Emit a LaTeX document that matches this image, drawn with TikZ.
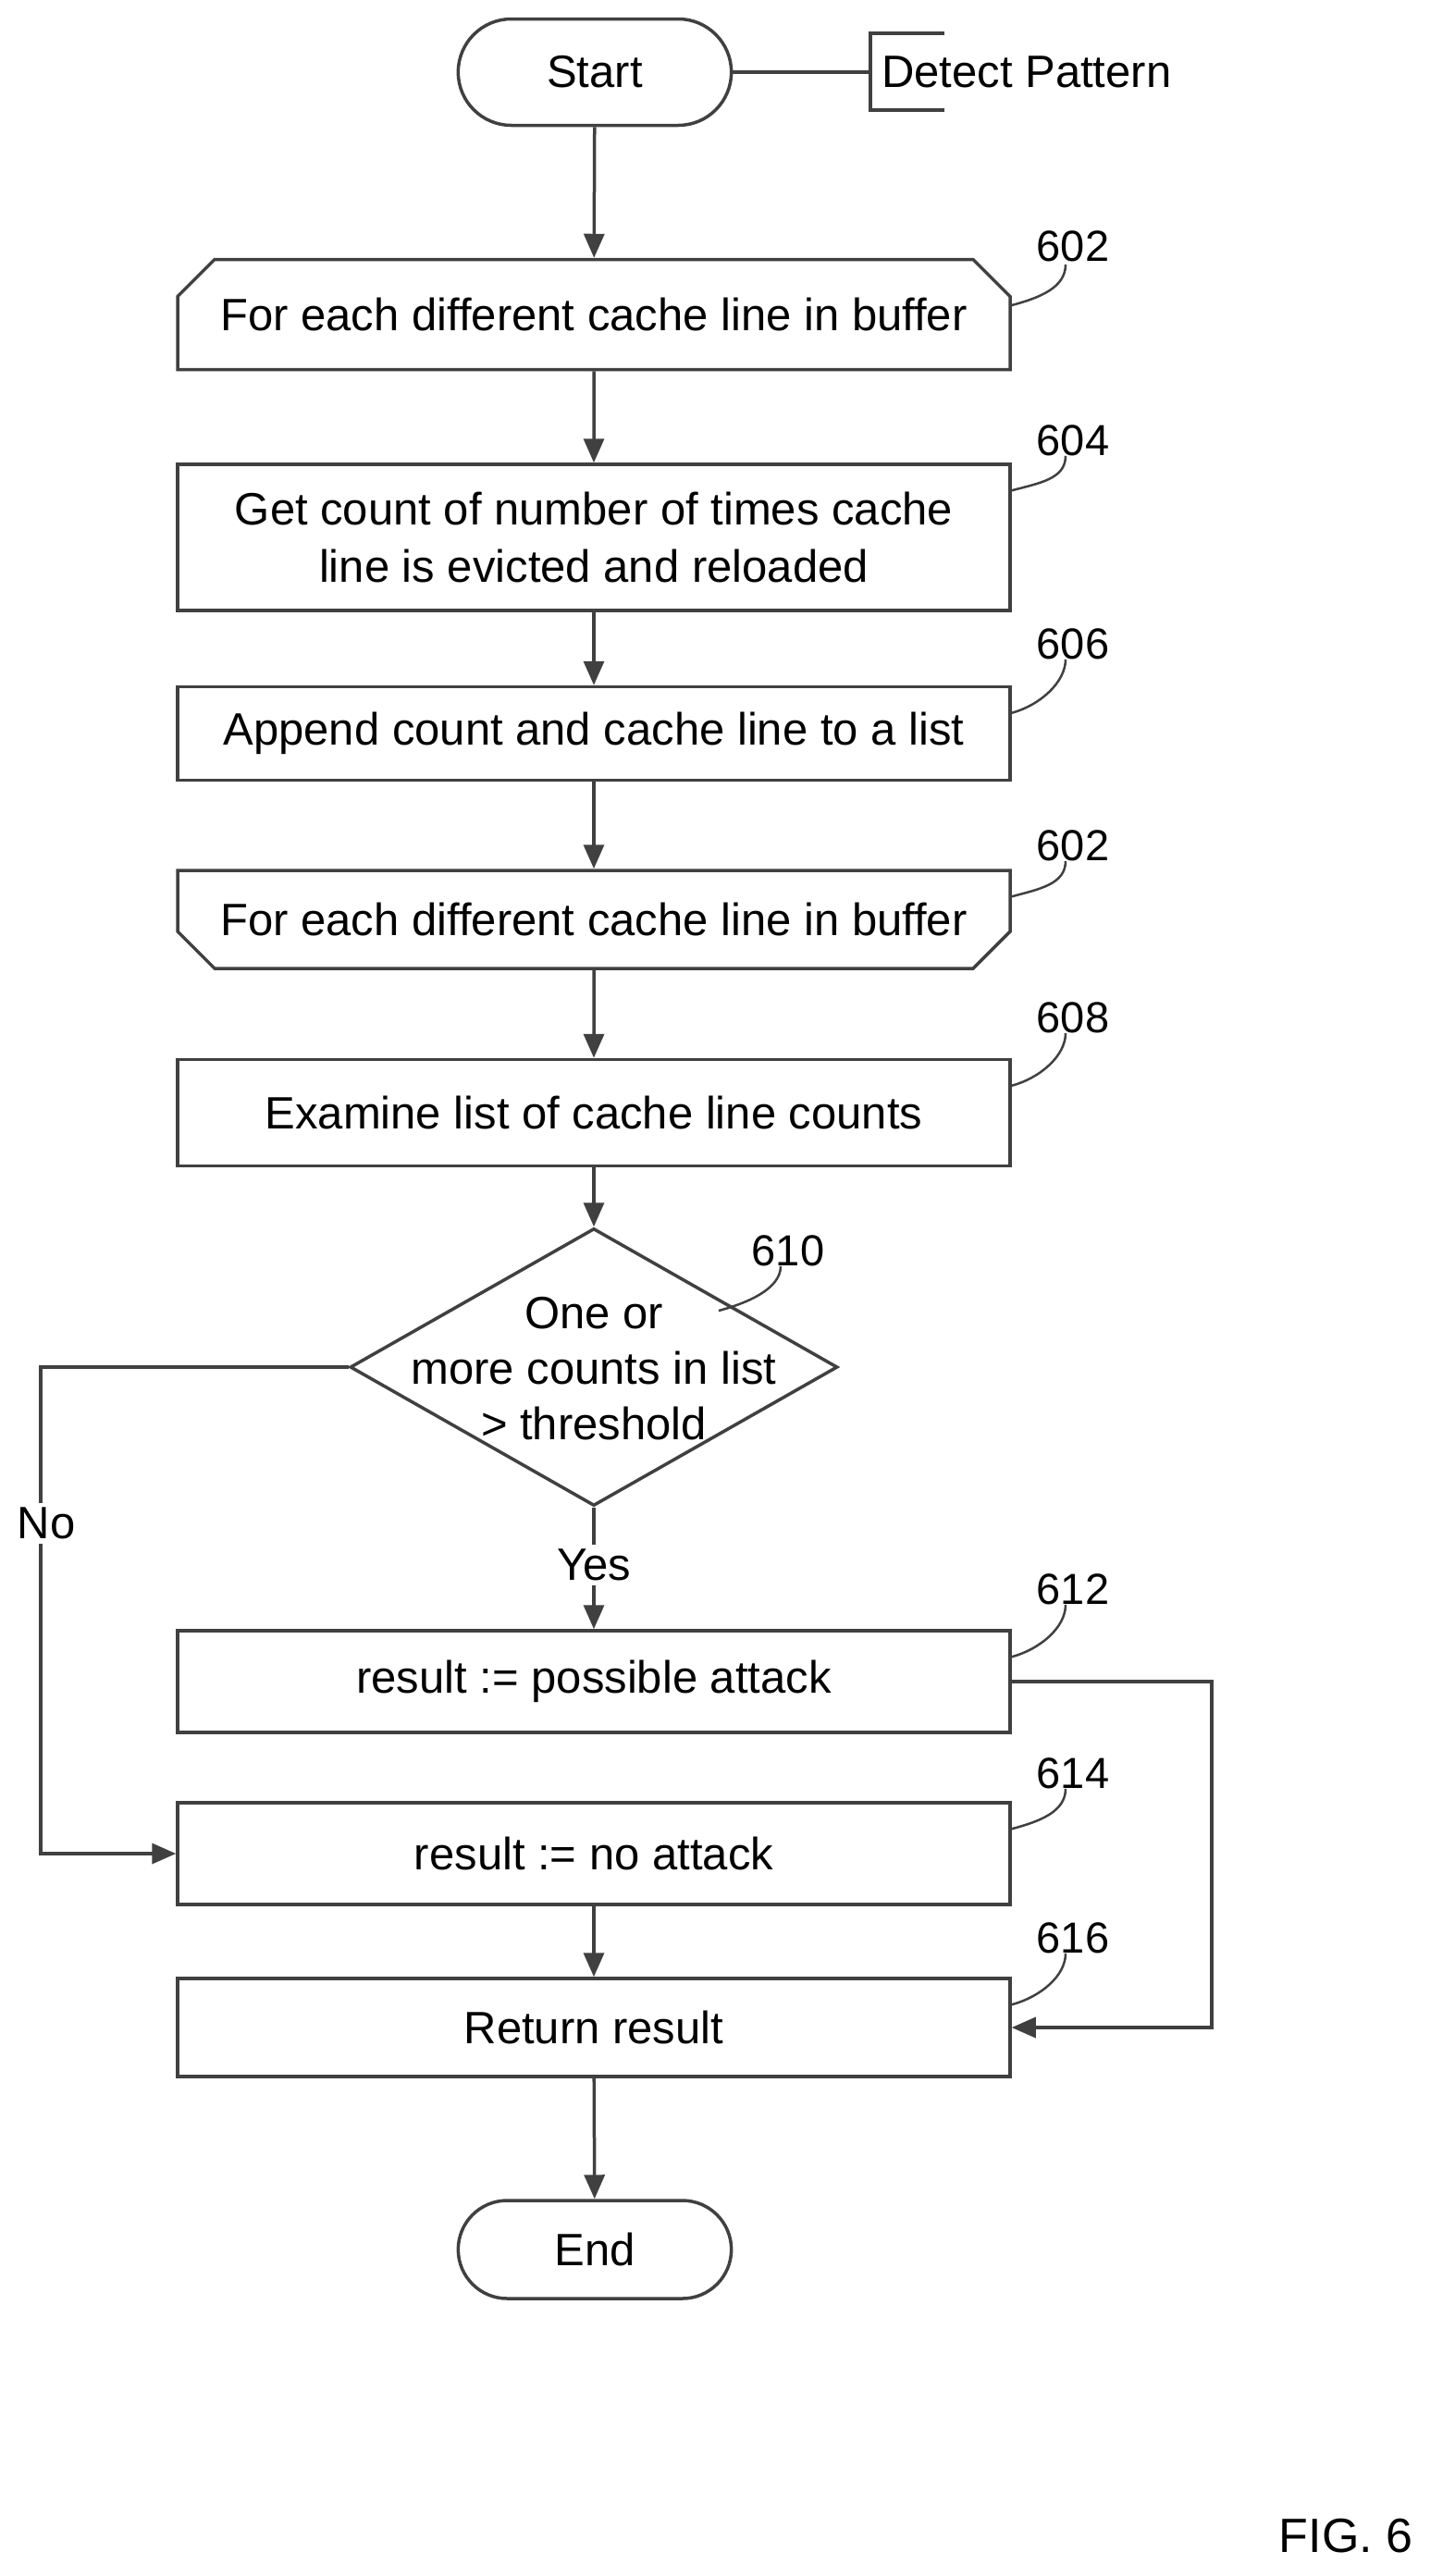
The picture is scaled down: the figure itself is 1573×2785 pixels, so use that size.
\documentclass[tikz,border=0pt]{standalone}
\usepackage{fontspec}
\setmainfont{Liberation Sans}
\usetikzlibrary{arrows.meta,shapes.misc,shapes.geometric}
\begin{document}
\begin{tikzpicture}[x=1pt,y=-1pt,
  ln/.style={draw=black!75,line width=3.5pt},
  ar/.style={ln,-{Triangle[length=26pt,width=22pt]}},
  box/.style={ln,rectangle,minimum width=900pt,align=center,font=\fontsize{49}{62}\selectfont,inner sep=0pt},
  term/.style={ln,rounded rectangle,minimum width=302pt,font=\fontsize{49}{62}\selectfont},
  lbl/.style={font=\fontsize{47}{52}\selectfont,inner sep=0pt},
  cb/.style={box,chamfered rectangle,chamfered rectangle xsep=22pt,chamfered rectangle ysep=22pt}]
\useasboundingbox (0,0) rectangle (1573,2785);
\node[term,minimum height=115pt] (start) at (643,78) {Start};
\coordinate (bt) at (941,36); \coordinate (bm) at (941,78); \coordinate (bb) at (941,119);
\draw[ln] (start.east) -- (bm);
\draw[ln] (1021,36) -- (bt) -- (bb) -- (1021,119);
\node[lbl,anchor=west,font=\fontsize{49}{55}\selectfont] (dp) at (953,78) {Detect Pattern};

\node[cb,chamfered rectangle corners={north west,north east},minimum height=119pt] (b602) at (642,340) {For each different cache line in buffer};
\node[box,minimum height=158pt] (b604) at (642,581) {Get count of number of times cache\\line is evicted and reloaded};
\node[box,minimum height=101pt] (b606) at (642,793) {Append count and cache line to a list};
\node[cb,chamfered rectangle corners={south west,south east},minimum height=106pt] (b602b) at (642,994) {For each different cache line in buffer};
\node[box,minimum height=115pt] (b608) at (642,1203) {Examine list of cache line counts};
\node[ln,diamond,minimum width=527pt,minimum height=300pt,inner sep=0pt] (d610) at (642,1478) {};
\node[lbl,align=center,font=\fontsize{49}{60}\selectfont] (dt) at (642,1480) {One or\\more counts in list\\> threshold};
\node[box,minimum height=110pt] (b612) at (642,1818) {result := possible attack};
\node[box,minimum height=110pt] (b614) at (642,2004) {result := no attack};
\node[box,minimum height=106pt] (b616) at (642,2192) {Return result};
\node[term,minimum height=106pt] (end) at (643,2432) {End};

\draw[ar] (start) -- (b602);
\draw[ar] (b602) -- (b604);
\draw[ar] (b604) -- (b606);
\draw[ar] (b606) -- (b602b);
\draw[ar] (b602b) -- (b608);
\draw[ar] (b608) -- (d610);
\node[lbl,fill=white,inner sep=5pt,font=\fontsize{49}{55}\selectfont] (yes) at (642,1692) {Yes};
\draw[ln] (d610.south) -- (yes.north);
\draw[ar] (yes.south) -- (b612);
\coordinate (nl) at (44,1478); \coordinate (nb) at (44,2004);
\draw[ar] (d610.west) -- (nl) -- (nb) -- (b614.west);
\node[lbl,fill=white,inner sep=5pt,font=\fontsize{49}{55}\selectfont] (no) at (50,1647) {No};
\coordinate (rt) at (1310,1818); \coordinate (rb) at (1310,2192);
\draw[ar] (b612.east) -- (rt) -- (rb) -- (b616.east);
\draw[ar] (b614) -- (b616);
\draw[ar] (b616) -- (end);

% reference labels
\draw[ln,line width=2.5pt] ([yshift=10pt]b602.east) .. controls +(30,-8) and +(0,25) .. (1152,286) coordinate (c602);
\node[lbl] (l602) at (1160,266) {602};
\foreach \n/\b/\t/\y in {l604/b604/604/476, l606/b606/606/696, l602b/b602b/602/914, l608/b608/608/1100, l612/b612/612/1718, l614/b614/614/1917, l616/b616/616/2095}{
  \node[lbl] (\n) at (1160,\y) {\t};
  \draw[ln,line width=2.5pt] ([yshift=-30pt]\b.north east) .. controls +(30,-8) and +(0,25) .. ([xshift=-8pt]\n.south);
}
\node[lbl] (l610) at (852,1352) {610};
\draw[ln,line width=2.5pt] (777,1417) .. controls +(30,-8) and +(0,25) .. ([xshift=-8pt]l610.south);
\node[lbl,font=\fontsize{52}{58}\selectfont] (fig) at (1455,2742) {FIG. 6};
\end{tikzpicture}
\end{document}
